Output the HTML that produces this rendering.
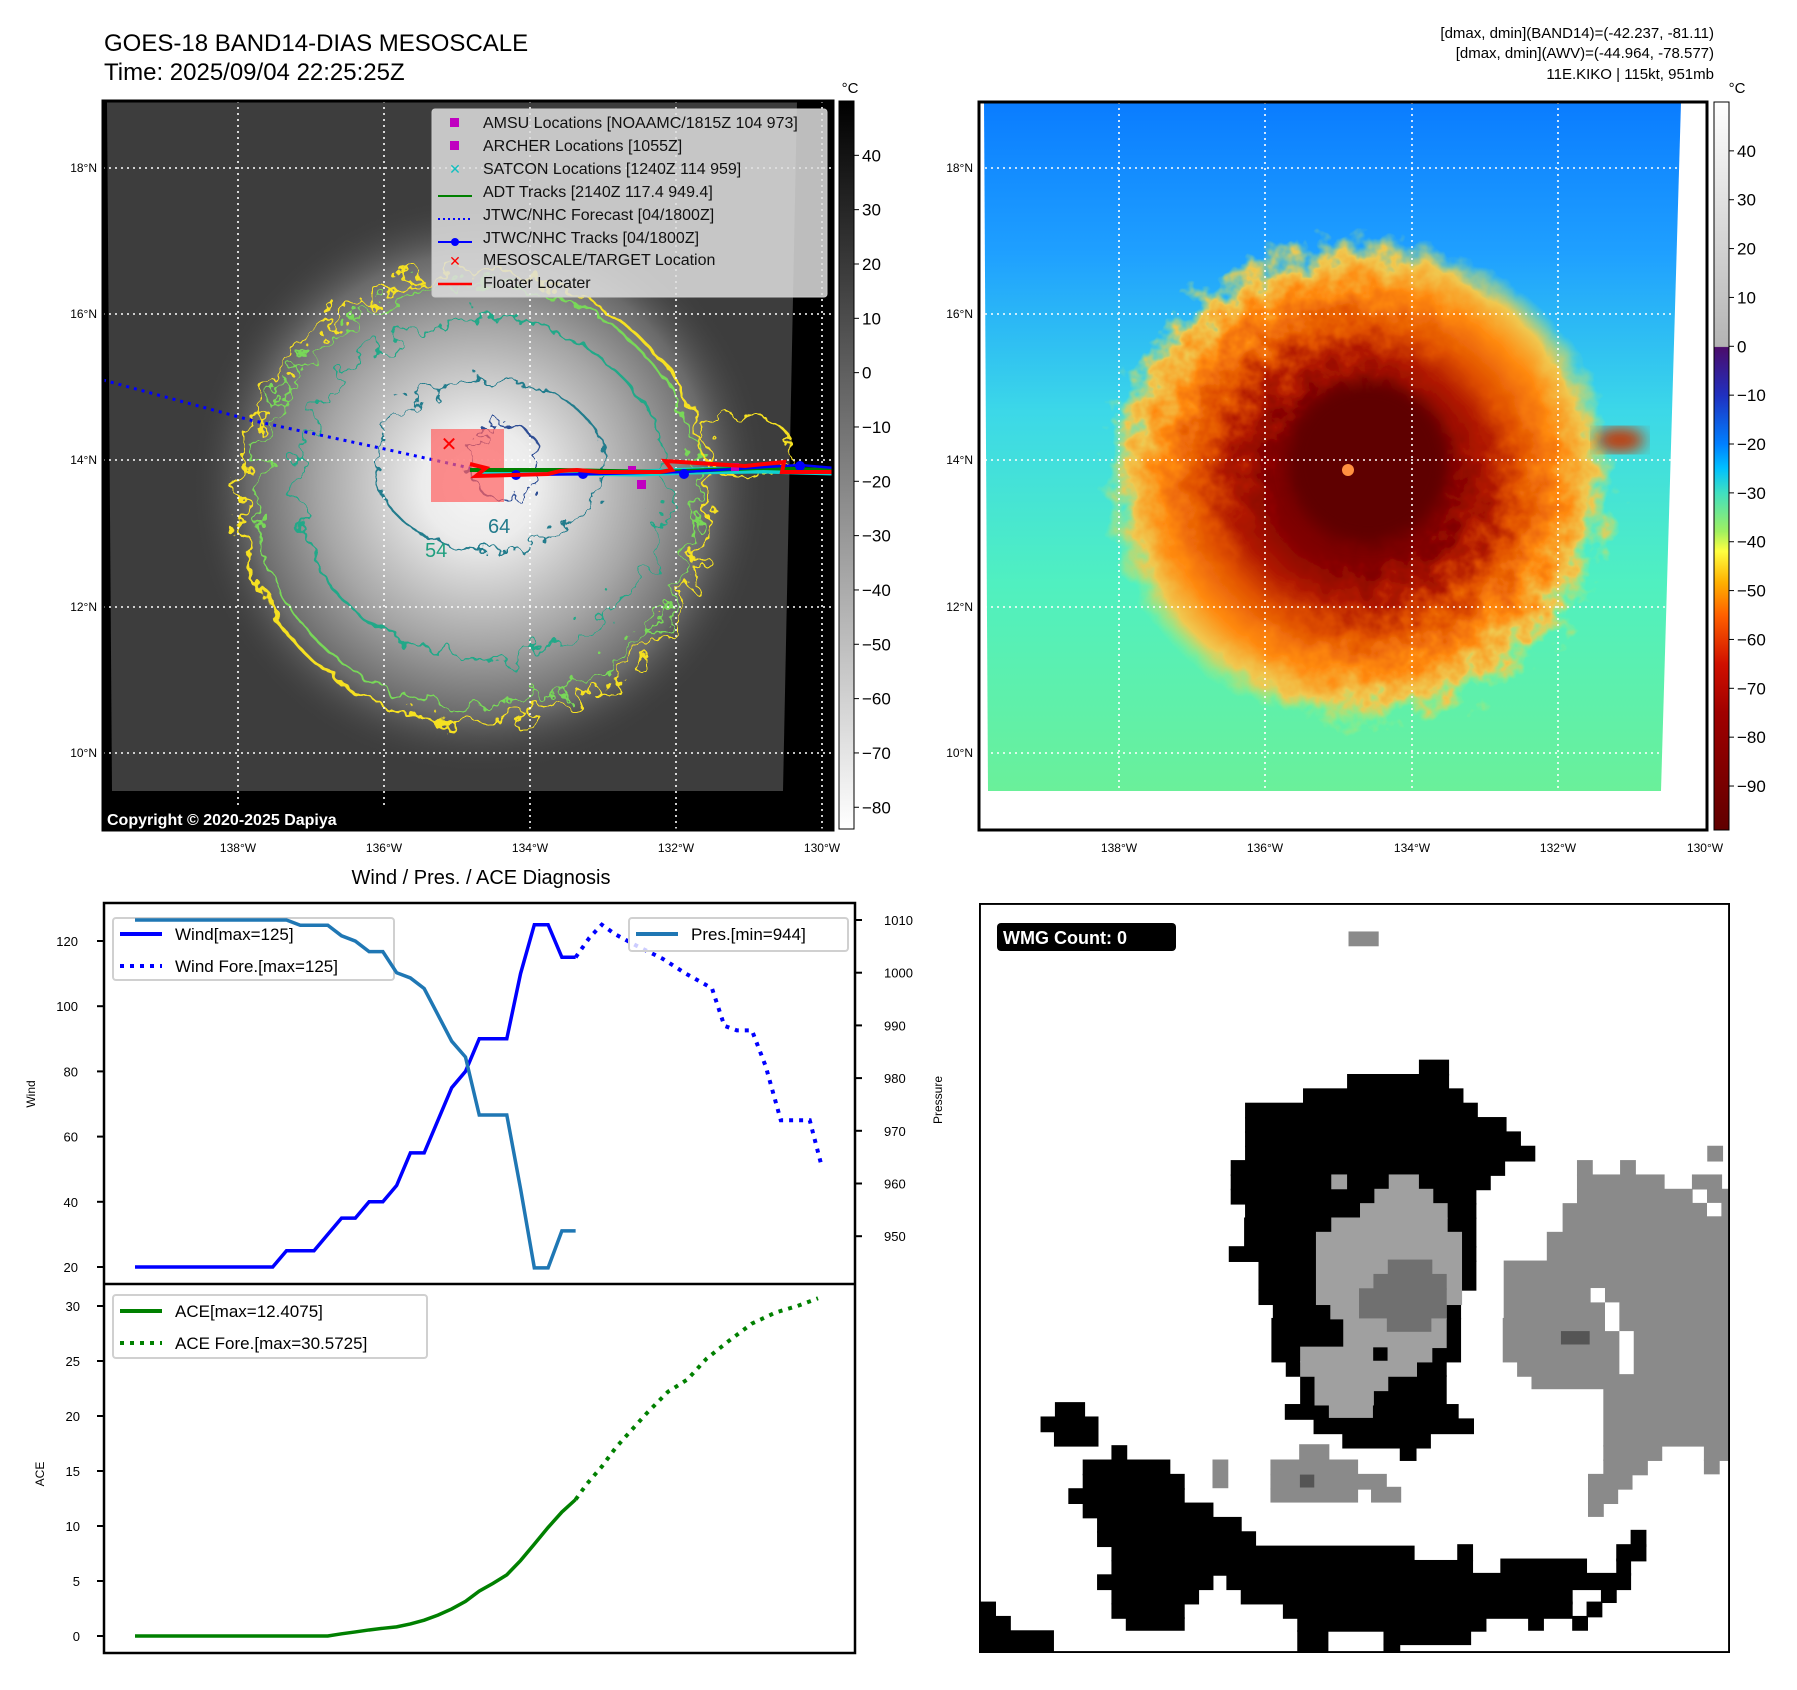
<!DOCTYPE html>
<html><head><meta charset="utf-8"><style>
html,body{margin:0;padding:0;background:#fff}
svg{display:block;font-family:"Liberation Sans","DejaVu Sans",sans-serif}
</style></head><body>
<svg id="root" width="1797" height="1690" viewBox="0 0 1797 1690" xmlns="http://www.w3.org/2000/svg">
<defs>
<filter id="rough" x="-20%" y="-20%" width="140%" height="140%"><feTurbulence type="fractalNoise" baseFrequency="0.05" numOctaves="3" seed="3"/><feDisplacementMap in="SourceGraphic" scale="45"/></filter>
<filter id="rough2" x="-20%" y="-20%" width="140%" height="140%"><feTurbulence type="fractalNoise" baseFrequency="0.06" numOctaves="3" seed="7"/><feDisplacementMap in="SourceGraphic" scale="30"/></filter>
<filter id="blur8"><feGaussianBlur stdDeviation="8"/></filter>
<radialGradient id="storm1" cx="0.5" cy="0.5" r="0.5">
<stop offset="0" stop-color="#f6f6f6"/><stop offset="0.2" stop-color="#ececec"/><stop offset="0.34" stop-color="#d0d0d0"/><stop offset="0.55" stop-color="#a6a6a6"/><stop offset="0.8" stop-color="#6a6a6a"/><stop offset="1" stop-color="#3c3c3c" stop-opacity="0"/></radialGradient>
<radialGradient id="storm2" cx="0.5" cy="0.5" r="0.5">
<stop offset="0" stop-color="#600000"/><stop offset="0.35" stop-color="#820000"/><stop offset="0.5" stop-color="#b01800"/><stop offset="0.62" stop-color="#e05000"/><stop offset="0.78" stop-color="#ff8a10"/><stop offset="0.9" stop-color="#f0c850"/><stop offset="1" stop-color="#b0f070" stop-opacity="0"/></radialGradient>
<linearGradient id="bg2" x1="0" y1="0" x2="0" y2="1">
<stop offset="0" stop-color="#0a7cff"/><stop offset="0.22" stop-color="#1fa0ff"/><stop offset="0.45" stop-color="#3cd8e8"/><stop offset="0.7" stop-color="#50f0c0"/><stop offset="1" stop-color="#6af09a"/></linearGradient>
<linearGradient id="cb1" x1="0" y1="0" x2="0" y2="1"><stop offset="0" stop-color="#000"/><stop offset="1" stop-color="#fff"/></linearGradient>
<linearGradient id="cb2" x1="0" y1="0" x2="0" y2="1">
<stop offset="0" stop-color="#ffffff"/><stop offset="0.336" stop-color="#b4b4b4"/><stop offset="0.337" stop-color="#4b0c6b"/><stop offset="0.403" stop-color="#2030c0"/><stop offset="0.47" stop-color="#0080ff"/><stop offset="0.503" stop-color="#00c0ff"/><stop offset="0.537" stop-color="#40e0c0"/><stop offset="0.59" stop-color="#a0f060"/><stop offset="0.617" stop-color="#ffff40"/><stop offset="0.66" stop-color="#ffb000"/><stop offset="0.705" stop-color="#ff6000"/><stop offset="0.772" stop-color="#d01000"/><stop offset="0.839" stop-color="#a00000"/><stop offset="1" stop-color="#600000"/></linearGradient>
</defs>

<text x="104" y="51" font-size="24">GOES-18 BAND14-DIAS MESOSCALE</text>
<text x="104" y="80" font-size="24">Time: 2025/09/04 22:25:25Z</text>
<g font-size="15" text-anchor="end">
<text x="1714" y="38">[dmax, dmin](BAND14)=(-42.237, -81.11)</text>
<text x="1714" y="58">[dmax, dmin](AWV)=(-44.964, -78.577)</text>
<text x="1714" y="79">11E.KIKO | 115kt, 951mb</text>
</g>

<g>
<clipPath id="c1"><rect x="103" y="101" width="730" height="729"/></clipPath>
<g clip-path="url(#c1)">
<rect x="103" y="101" width="730" height="729" fill="#000"/>
<polygon points="107,101 797,101 783,791 112,791" fill="#3d3d3d"/>
<ellipse cx="480" cy="485" rx="290" ry="290" fill="url(#storm1)"/>
<g fill="none" filter="url(#rough)">
<ellipse cx="475" cy="498" rx="235" ry="225" stroke="#f5e020" stroke-width="3"/>
<ellipse cx="478" cy="495" rx="222" ry="212" stroke="#78d858" stroke-width="2.5"/>
<ellipse cx="482" cy="488" rx="185" ry="170" stroke="#20a888" stroke-width="2.5"/>
</g>
<g fill="none" filter="url(#rough2)">
<ellipse cx="490" cy="465" rx="115" ry="85" stroke="#237b8c" stroke-width="2.2"/>
<ellipse cx="505" cy="462" rx="35" ry="40" stroke="#2e4d94" stroke-width="2"/>
<ellipse cx="745" cy="445" rx="45" ry="30" stroke="#f5e020" stroke-width="2.5"/>
</g>
<g stroke="#fff" stroke-width="1.6" stroke-dasharray="2 4">
<line x1="238" y1="101" x2="238" y2="830"/><line x1="384" y1="101" x2="384" y2="830"/><line x1="530" y1="101" x2="530" y2="830"/><line x1="676" y1="101" x2="676" y2="830"/><line x1="822" y1="101" x2="822" y2="830"/>
<line x1="103" y1="168" x2="833" y2="168"/><line x1="103" y1="314" x2="833" y2="314"/><line x1="103" y1="460" x2="833" y2="460"/><line x1="103" y1="607" x2="833" y2="607"/><line x1="103" y1="753" x2="833" y2="753"/>
</g>
<polyline points="103,380 250,420 380,448 470,468" fill="none" stroke="#0000ff" stroke-width="3" stroke-dasharray="3 5"/>
<rect x="431" y="429" width="73" height="73" fill="#ff6060" fill-opacity="0.7"/>
<polyline points="480,472 560,472 640,473 690,471 760,470 835,472" fill="none" stroke="#10d0d0" stroke-width="7"/>
<polyline points="470,470 560,470 660,472 760,468 835,470" fill="none" stroke="#008000" stroke-width="4"/>
<polyline points="516,475 600,474 684,472 800,465 835,468" fill="none" stroke="#0000ff" stroke-width="2.5"/>
<g fill="#0000ff"><circle cx="516" cy="475" r="5"/><circle cx="583" cy="474" r="5"/><circle cx="684" cy="474" r="5"/><circle cx="800" cy="466" r="5"/></g>
<g fill="#c000c0"><rect x="637" y="480" width="9" height="9"/><rect x="731" y="463" width="8" height="8"/><rect x="628" y="466" width="8" height="8"/></g>
<polyline points="470,464 486,468 476,476 548,474 560,471 577,470 600,472 660,472 672,470 665,461 745,466 784,462 782,472 833,472" fill="none" stroke="#ff0000" stroke-width="4"/>
<text x="449" y="451" font-size="20" font-weight="bold" fill="#ff0000" text-anchor="middle">✕</text>
<g font-size="20" fill="#1f9f7f"><text x="425" y="557">54</text><text x="488" y="533" fill="#237b8c">64</text></g>
<rect x="103" y="807" width="300" height="23" fill="#000"/>
<text x="107" y="825" font-size="16" font-weight="bold" fill="#fff">Copyright © 2020-2025 Dapiya</text>
</g>
<rect x="103" y="101" width="730" height="729" fill="none" stroke="#000" stroke-width="3"/>
<g>
<rect x="432" y="109" width="395" height="188" rx="3" fill="#dedede" fill-opacity="0.85" stroke="#ccc"/>
<g font-size="16" fill="#111">
<text x="483" y="128">AMSU Locations [NOAAMC/1815Z 104 973]</text>
<text x="483" y="151">ARCHER Locations [1055Z]</text>
<text x="483" y="174">SATCON Locations [1240Z 114 959]</text>
<text x="483" y="197">ADT Tracks [2140Z 117.4 949.4]</text>
<text x="483" y="220">JTWC/NHC Forecast [04/1800Z]</text>
<text x="483" y="243">JTWC/NHC Tracks [04/1800Z]</text>
<text x="483" y="265">MESOSCALE/TARGET Location</text>
<text x="483" y="288">Floater Locater</text>
</g>
<rect x="450" y="118" width="9" height="9" fill="#c000c0"/>
<rect x="450" y="141" width="9" height="9" fill="#c000c0"/>
<text x="455" y="174" font-size="14" font-weight="bold" fill="#10c0c0" text-anchor="middle">✕</text>
<line x1="438" y1="196" x2="472" y2="196" stroke="#008000" stroke-width="2"/>
<line x1="438" y1="219" x2="472" y2="219" stroke="#0000ff" stroke-width="2" stroke-dasharray="2 3"/>
<line x1="438" y1="242" x2="472" y2="242" stroke="#0000ff" stroke-width="2"/><circle cx="455" cy="242" r="4" fill="#0000ff"/>
<text x="455" y="266" font-size="14" font-weight="bold" fill="#ff0000" text-anchor="middle">✕</text>
<line x1="438" y1="284" x2="472" y2="284" stroke="#ff0000" stroke-width="2.5"/>
</g>
<g font-size="12" text-anchor="end">
<text x="97" y="172">18°N</text><text x="97" y="318">16°N</text><text x="97" y="464">14°N</text><text x="97" y="611">12°N</text><text x="97" y="757">10°N</text></g>
<g font-size="12" text-anchor="middle">
<text x="238" y="852">138°W</text><text x="384" y="852">136°W</text><text x="530" y="852">134°W</text><text x="676" y="852">132°W</text><text x="822" y="852">130°W</text></g>
</g>
<g>
<rect x="839" y="101" width="15" height="728" fill="url(#cb1)" stroke="#000" stroke-width="1"/>
<text x="850" y="93" font-size="15" text-anchor="middle">°C</text>
<g id="cb1ticks" font-size="17"></g>
</g>

<g>
<clipPath id="c2"><rect x="979" y="102" width="728" height="728"/></clipPath>
<g clip-path="url(#c2)">
<rect x="979" y="102" width="728" height="728" fill="#fff"/>
<polygon points="984,102 1681,102 1661,791 988,791" fill="url(#bg2)"/>
<g filter="url(#rough)"><ellipse cx="1360" cy="480" rx="255" ry="245" fill="url(#storm2)"/></g>
<ellipse cx="1368" cy="462" rx="80" ry="80" fill="#5e0000" filter="url(#blur8)"/>
<ellipse cx="1348" cy="470" rx="6" ry="6" fill="#ff9040"/>
<ellipse cx="1620" cy="440" rx="25" ry="12" fill="#c83000" filter="url(#blur8)"/>
<g stroke="#fff" stroke-width="1.6" stroke-dasharray="2 4">
<line x1="1119" y1="102" x2="1119" y2="830"/><line x1="1265" y1="102" x2="1265" y2="830"/><line x1="1412" y1="102" x2="1412" y2="830"/><line x1="1558" y1="102" x2="1558" y2="830"/>
<line x1="979" y1="168" x2="1707" y2="168"/><line x1="979" y1="314" x2="1707" y2="314"/><line x1="979" y1="460" x2="1707" y2="460"/><line x1="979" y1="607" x2="1707" y2="607"/><line x1="979" y1="753" x2="1707" y2="753"/>
</g>
</g>
<rect x="979" y="102" width="728" height="728" fill="none" stroke="#000" stroke-width="3"/>
<g font-size="12" text-anchor="end"><text x="973" y="172">18°N</text><text x="973" y="318">16°N</text><text x="973" y="464">14°N</text><text x="973" y="611">12°N</text><text x="973" y="757">10°N</text></g>
<g font-size="12" text-anchor="middle"><text x="1119" y="852">138°W</text><text x="1265" y="852">136°W</text><text x="1412" y="852">134°W</text><text x="1558" y="852">132°W</text><text x="1705" y="852">130°W</text></g>
</g>
<g>
<rect x="1714" y="102" width="15" height="728" fill="url(#cb2)" stroke="#000" stroke-width="1"/>
<text x="1737" y="93" font-size="15" text-anchor="middle">°C</text>
<g id="cb2ticks" font-size="17"></g>
</g>

<text x="481" y="884" font-size="20" text-anchor="middle">Wind / Pres. / ACE Diagnosis</text>
<g id="chart"></g>

<g>
<svg x="979" y="903" width="751" height="750" viewBox="0 0 1568 1568" preserveAspectRatio="none">
<rect x="0" y="0" width="1568" height="1568" fill="#fff"/>
<g fill="#000" stroke="#000" stroke-width="3">
<rect x="920" y="329" width="60" height="30"/><rect x="770" y="359" width="210" height="30"/><rect x="678" y="389" width="332" height="30"/><rect x="557" y="419" width="483" height="30"/><rect x="557" y="449" width="543" height="30"/><rect x="557" y="479" width="573" height="30"/><rect x="557" y="509" width="603" height="30"/><rect x="527" y="539" width="570" height="30"/><rect x="527" y="569" width="540" height="30"/><rect x="527" y="599" width="510" height="30"/><rect x="557" y="629" width="480" height="30"/><rect x="555" y="659" width="482" height="60"/><rect x="523" y="719" width="514" height="30"/><rect x="585" y="749" width="452" height="60"/><rect x="585" y="809" width="422" height="30"/><rect x="615" y="839" width="390" height="30"/><rect x="612" y="869" width="393" height="90"/><rect x="642" y="959" width="333" height="30"/><rect x="672" y="989" width="303" height="60"/><rect x="640" y="1049" width="360" height="30"/><rect x="700" y="1079" width="332" height="30"/><rect x="760" y="1109" width="182" height="30"/><rect x="880" y="1139" width="32" height="26"/>
<rect x="160" y="1045" width="60" height="30"/><rect x="130" y="1075" width="118" height="30"/><rect x="158" y="1105" width="90" height="30"/>
<rect x="278" y="1135" width="30" height="30"/><rect x="218" y="1165" width="180" height="30"/><rect x="218" y="1195" width="210" height="30"/><rect x="188" y="1225" width="240" height="30"/><rect x="218" y="1255" width="270" height="30"/><rect x="248" y="1285" width="299" height="30"/><rect x="248" y="1315" width="329" height="30"/><rect x="1362" y="1312" width="30" height="33"/>
<rect x="278" y="1345" width="630" height="30"/><rect x="1000" y="1342" width="30" height="33"/><rect x="1332" y="1342" width="60" height="33"/>
<rect x="278" y="1375" width="752" height="30"/><rect x="1090" y="1372" width="178" height="33"/><rect x="1332" y="1372" width="28" height="33"/>
<rect x="248" y="1405" width="240" height="30"/><rect x="518" y="1402" width="842" height="33"/>
<rect x="278" y="1435" width="180" height="30"/><rect x="548" y="1432" width="690" height="33"/><rect x="1300" y="1432" width="30" height="30"/>
<rect x="278" y="1465" width="150" height="30"/><rect x="636" y="1462" width="602" height="33"/><rect x="1270" y="1462" width="30" height="30"/>
<rect x="308" y="1495" width="120" height="25"/><rect x="666" y="1492" width="392" height="30"/><rect x="1148" y="1492" width="30" height="28"/><rect x="1240" y="1492" width="30" height="28"/>
<rect x="666" y="1522" width="62" height="46"/><rect x="846" y="1522" width="180" height="28"/><rect x="846" y="1550" width="32" height="18"/>
<rect x="0" y="1462" width="34" height="30"/><rect x="0" y="1492" width="65" height="30"/><rect x="0" y="1522" width="155" height="46"/>
</g>
<g fill="#a0a0a0" stroke="#a0a0a0" stroke-width="3">
<rect x="737" y="569" width="30" height="28"/><rect x="857" y="569" width="60" height="30"/><rect x="827" y="599" width="120" height="30"/><rect x="797" y="629" width="180" height="30"/><rect x="737" y="659" width="240" height="30"/><rect x="705" y="689" width="302" height="150"/><rect x="735" y="839" width="240" height="30"/><rect x="762" y="869" width="213" height="60"/><rect x="672" y="929" width="273" height="30"/><rect x="672" y="959" width="241" height="30"/><rect x="702" y="989" width="151" height="30"/><rect x="702" y="1019" width="121" height="30"/><rect x="732" y="1049" width="89" height="26"/>
</g>
<rect x="823" y="929" width="30" height="28" fill="#000"/>
<g fill="#707070" stroke="#707070" stroke-width="3"><rect x="855" y="747" width="90" height="30"/><rect x="825" y="777" width="150" height="30"/><rect x="795" y="807" width="180" height="60"/><rect x="853" y="867" width="90" height="28"/></g>
<g fill="#8a8a8a" stroke="#8a8a8a" stroke-width="3">
<rect x="773" y="61" width="60" height="28"/>
<rect x="1522" y="509" width="30" height="30"/><rect x="1250" y="539" width="30" height="30"/><rect x="1340" y="539" width="30" height="30"/><rect x="1250" y="569" width="180" height="30"/><rect x="1490" y="569" width="60" height="30"/><rect x="1250" y="599" width="318" height="30"/><rect x="1220" y="629" width="348" height="60"/><rect x="1187" y="689" width="381" height="60"/><rect x="1097" y="749" width="471" height="120"/><rect x="1095" y="869" width="473" height="90"/><rect x="1125" y="959" width="443" height="30"/><rect x="1155" y="989" width="413" height="26"/><rect x="1305" y="1015" width="263" height="120"/><rect x="1305" y="1135" width="120" height="30"/><rect x="1515" y="1135" width="53" height="30"/><rect x="1305" y="1165" width="90" height="30"/><rect x="1515" y="1165" width="30" height="28"/><rect x="1273" y="1195" width="90" height="30"/><rect x="1273" y="1225" width="60" height="30"/><rect x="1273" y="1255" width="30" height="27"/>
<rect x="670" y="1133" width="60" height="32"/><rect x="610" y="1165" width="180" height="30"/><rect x="610" y="1195" width="240" height="30"/><rect x="610" y="1225" width="180" height="27"/><rect x="820" y="1222" width="60" height="30"/><rect x="489" y="1165" width="30" height="57"/>
</g>
<g fill="#fff"><rect x="1490" y="599" width="30" height="28"/><rect x="1520" y="627" width="30" height="28"/><rect x="1277" y="805" width="30" height="30"/><rect x="1307" y="835" width="30" height="60"/><rect x="1337" y="895" width="30" height="90"/></g>
<g fill="#555"><rect x="1215" y="895" width="60" height="28"/><rect x="670" y="1195" width="30" height="27"/></g>
<rect x="1.5" y="1.5" width="1565" height="1565" fill="none" stroke="#000" stroke-width="5"/>
</svg>
<rect x="997" y="923" width="179" height="28" rx="4" fill="#000"/>
<text x="1003" y="944" font-size="18" font-weight="bold" fill="#fff">WMG Count: 0</text>
</g>
</svg>
<script>
const windObs = [20,20,20,20,20,20,20,20,20,20,20,25,25,25,30,35,35,40,40,45,55,55,65,75,80,90,90,90,110,125,125,115,115];
const presObs = [1010,1010,1010,1010,1010,1010,1010,1010,1010,1010,1010,1010,1009,1009,1009,1007,1006,1004,1004,1000,999,997,992,987,984,973,973,973,959,944,944,951,951];
const windFcstX = [32,33,33.9,34.9,36.4,38.3,40,41.9,42.8,43.7,44.8,45.8,46.9,47.9,49,49.8];
const windFcstY = [115,121,125,122,118.6,114.6,110,105.5,94,92.6,92.6,81.6,65,65,65,52];
const aceObs = [0,0,0,0,0,0,0,0,0,0,0,0,0,0,0,0.2,0.37,0.55,0.7,0.83,1.1,1.44,1.9,2.46,3.15,4.08,4.78,5.56,6.86,8.35,9.87,11.27,12.41];
const aceFcstX = [32,32.8,33.9,34.9,35.9,37.2,38.7,40.1,41.5,43.1,44.8,46.5,48.1,49.6];
const aceFcstY = [12.41,13.8,15.4,17.1,18.5,20.3,22.2,23.3,25.2,26.8,28.4,29.4,30.0,30.7];
const windTicks = [20,40,60,80,100,120];
const presTicks = [950,960,970,980,990,1000,1010];
const aceTicks = [0,5,10,15,20,25,30];
const cb1Ticks = [40,30,20,10,0,-10,-20,-30,-40,-50,-60,-70,-80];
const cb2Ticks = [40,30,20,10,0,-10,-20,-30,-40,-50,-60,-70,-80,-90];

const NS='http://www.w3.org/2000/svg';
const xi = i => 135 + i*13.77;
const yW = v => 1267 - (v-20)*3.26;
const yP = p => 920 + (1010-p)*5.27;
const yA = a => 1636 - a*11;
const yC1 = t => 101 + (50-t)*(728/134);
const yC2 = t => 102 + (50-t)*(728/149);
function mk(tag, attrs, parent){const e=document.createElementNS(NS,tag);for(const k in attrs)e.setAttribute(k,attrs[k]);parent.appendChild(e);return e;}
const chart=document.getElementById('chart');

const cb1=document.getElementById('cb1ticks');
cb1Ticks.forEach(t=>{const y=yC1(t);
 const tk=mk('line',{x1:854,x2:859,y1:y,y2:y,stroke:'#000'},cb1);
 
 
 const tx=mk('text',{x:862,y:y+6},cb1);tx.textContent=(t<0?'−'+(-t):t);
 
 });
const cb2=document.getElementById('cb2ticks');
cb2Ticks.forEach(t=>{const y=yC2(t);
 const tk=mk('line',{x1:1729,x2:1734,y1:y,y2:y,stroke:'#000'},cb2);
 
 
 const tx=mk('text',{x:1737,y:y+6},cb2);tx.textContent=(t<0?'−'+(-t):t);
 
 });

mk('rect',{x:104,y:903,width:751,height:750,fill:'#fff'},chart);
windTicks.forEach(v=>{const y=yW(v);
 mk('line',{x1:97,x2:104,y1:y,y2:y,stroke:'#000','stroke-width':2},chart);
 const t=mk('text',{x:78,y:y+5,'font-size':13,'text-anchor':'end'},chart);t.textContent=v;
 
 });
presTicks.forEach(v=>{const y=yP(v);
 mk('line',{x1:855,x2:862,y1:y,y2:y,stroke:'#000','stroke-width':2},chart);
 const t=mk('text',{x:884,y:y+5,'font-size':13},chart);t.textContent=v;
 
 });
aceTicks.forEach(v=>{const y=yA(v);
 mk('line',{x1:97,x2:104,y1:y,y2:y,stroke:'#000','stroke-width':2},chart);
 const t=mk('text',{x:80,y:y+5,'font-size':13,'text-anchor':'end'},chart);t.textContent=v;
 
 });
function lab(txt,x,y,name){const t=mk('text',{x:x,y:y,'font-size':12,'text-anchor':'middle',transform:`rotate(-90 ${x} ${y})`},chart);t.textContent=txt;
 
 }
lab('Wind',35,1094,'wind-axis-title');lab('Pressure',942,1100,'pressure-axis-title');lab('ACE',44,1474,'ace-axis-title');

function pts(xs,ys,fx,fy){return xs.map((x,i)=>fx(x)+','+fy(ys[i])).join(' ');}
const idx = windObs.map((_,i)=>i);
const wl=mk('g',{},chart);


mk('rect',{x:113,y:918,width:281,height:62,rx:3,fill:'#fff','fill-opacity':0.8,stroke:'#d0d0d0','stroke-width':2},wl);
mk('line',{x1:120,x2:162,y1:934,y2:934,stroke:'#0000ff','stroke-width':4},wl);
mk('line',{x1:120,x2:162,y1:966,y2:966,stroke:'#0000ff','stroke-width':4,'stroke-dasharray':'4 6'},wl);
let t=mk('text',{x:175,y:940,'font-size':17},wl);t.textContent='Wind[max=125]';
t=mk('text',{x:175,y:972,'font-size':17},wl);t.textContent='Wind Fore.[max=125]';

const w1=mk('polyline',{points:pts(idx,windObs,xi,yW),fill:'none',stroke:'#0000ff','stroke-width':3.5},chart);


const w2=mk('polyline',{points:pts(windFcstX,windFcstY,xi,yW),fill:'none',stroke:'#0000ff','stroke-width':4,'stroke-dasharray':'4 6'},chart);


const p1=mk('polyline',{points:pts(idx,presObs,xi,yP),fill:'none',stroke:'#1f77b4','stroke-width':3.5},chart);


const pl=mk('g',{},chart);


mk('rect',{x:629,y:918,width:219,height:33,rx:3,fill:'#fff','fill-opacity':0.8,stroke:'#d0d0d0','stroke-width':2},pl);
mk('line',{x1:636,x2:678,y1:934,y2:934,stroke:'#1f77b4','stroke-width':4},pl);
t=mk('text',{x:691,y:940,'font-size':17},pl);t.textContent='Pres.[min=944]';

const a1=mk('polyline',{points:pts(idx,aceObs,xi,yA),fill:'none',stroke:'#008000','stroke-width':3.5},chart);


const a2=mk('polyline',{points:pts(aceFcstX,aceFcstY,xi,yA),fill:'none',stroke:'#008000','stroke-width':4,'stroke-dasharray':'4 6'},chart);


const al=mk('g',{},chart);


mk('rect',{x:113,y:1295,width:314,height:63,rx:3,fill:'#fff','fill-opacity':0.8,stroke:'#d0d0d0','stroke-width':2},al);
mk('line',{x1:120,x2:162,y1:1311,y2:1311,stroke:'#008000','stroke-width':4},al);
mk('line',{x1:120,x2:162,y1:1343,y2:1343,stroke:'#008000','stroke-width':4,'stroke-dasharray':'4 6'},al);
t=mk('text',{x:175,y:1317,'font-size':17},al);t.textContent='ACE[max=12.4075]';
t=mk('text',{x:175,y:1349,'font-size':17},al);t.textContent='ACE Fore.[max=30.5725]';

mk('rect',{x:104,y:903,width:751,height:750,fill:'none',stroke:'#000','stroke-width':2.5},chart);
mk('line',{x1:104,x2:855,y1:1284,y2:1284,stroke:'#000','stroke-width':2.5},chart);
</script>
</body></html>
